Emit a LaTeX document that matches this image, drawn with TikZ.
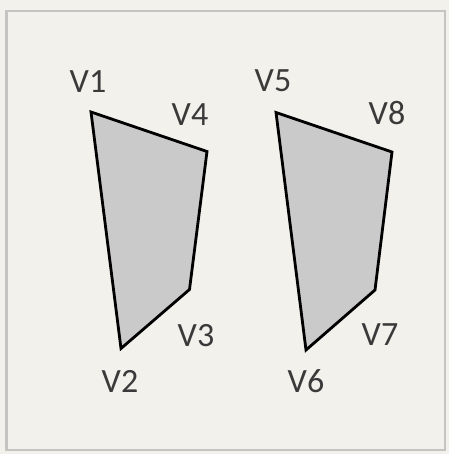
\documentclass[tikz,border=0pt]{standalone}
\usepackage{fontspec}
\setmainfont{Carlito}
\definecolor{paper}{HTML}{F3F1EC}
\definecolor{frame}{HTML}{C4C4C2}
\definecolor{quadfill}{HTML}{CACACA}
\definecolor{labeltext}{HTML}{3A3A3A}
\begin{document}
\begin{tikzpicture}[x=1pt,y=1pt,
  quad/.style={draw=black,fill=quadfill,line width=2.8pt,line join=miter},
  vlabel/.style={text=labeltext,font=\fontsize{34}{34}\selectfont,inner sep=0pt}]
\useasboundingbox (0,0) rectangle (449,454);
\fill[paper] (0,0) rectangle (449,454);
\draw[frame,line width=2.5pt] (6.5,4) rectangle (445,443);
% left quad
\coordinate (v1) at (91,342);
\coordinate (v4) at (207,302.5);
\coordinate (v3) at (189.5,164.5);
\coordinate (v2) at (121,105.5);
\draw[quad] (v1) -- (v4) -- (v3) -- (v2) -- cycle;
% right quad
\coordinate (v5) at (276,341.5);
\coordinate (v8) at (392,302);
\coordinate (v7) at (375,164);
\coordinate (v6) at (306,104);
\draw[quad] (v5) -- (v8) -- (v7) -- (v6) -- cycle;
\node[vlabel] (l1) at (88,372) {V1};
\node[vlabel] (l4) at (190,339) {V4};
\node[vlabel] (l3) at (196,118) {V3};
\node[vlabel] (l2) at (120,73) {V2};
\node[vlabel] (l5) at (273,373) {V5};
\node[vlabel] (l8) at (387,341) {V8};
\node[vlabel] (l7) at (380,119) {V7};
\node[vlabel] (l6) at (306,73) {V6};
\end{tikzpicture}
\end{document}
